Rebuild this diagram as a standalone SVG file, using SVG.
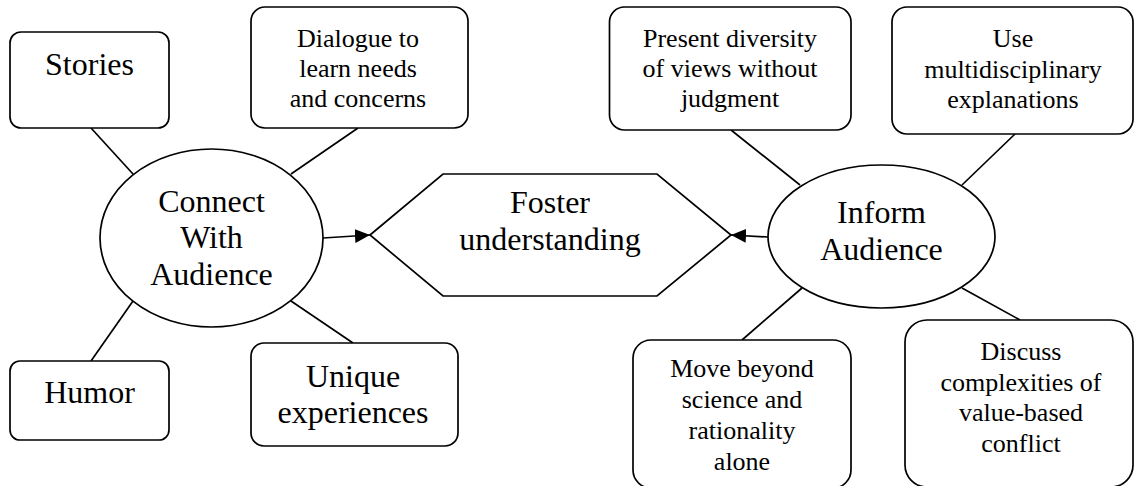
<svg xmlns="http://www.w3.org/2000/svg" width="1135" height="486" viewBox="0 0 1135 486">
<defs>
<style>
.box{fill:#fff;stroke:#000;stroke-width:1.7}
.ln{fill:none;stroke:#000;stroke-width:1.7}
.big{font-family:"Liberation Serif","Times New Roman",serif;font-size:32px;fill:#000;text-anchor:middle}
.sm{font-family:"Liberation Serif","Times New Roman",serif;font-size:26px;fill:#000;text-anchor:middle}
</style>
<marker id="arr" viewBox="0 0 15 14" refX="15" refY="7" markerWidth="15" markerHeight="14" markerUnits="userSpaceOnUse" orient="auto">
<path d="M0,0 L15,7 L0,14 Z" fill="#000"/>
</marker>
</defs>
<rect width="1135" height="486" fill="#fff"/>
<g id="connectors">
<line class="ln" x1="91" y1="128" x2="133" y2="174"/>
<line class="ln" x1="358" y1="128" x2="291" y2="174"/>
<line class="ln" x1="91" y1="361" x2="133" y2="301"/>
<line class="ln" x1="353" y1="343" x2="291" y2="301"/>
<line class="ln" x1="731" y1="130" x2="800" y2="185"/>
<line class="ln" x1="1015" y1="134" x2="962" y2="185"/>
<line class="ln" x1="742" y1="340" x2="802" y2="288"/>
<line class="ln" x1="1020" y1="320" x2="962" y2="288"/>
<line class="ln" x1="323" y1="238" x2="370" y2="235" marker-end="url(#arr)"/>
<line class="ln" x1="768" y1="237" x2="731" y2="235" marker-end="url(#arr)"/>
</g>
<g id="stories">
<rect class="box" x="10" y="32" width="159" height="96" rx="11"/>
<text class="big" x="89.5" y="75">Stories</text>
</g>
<g id="dialogue">
<rect class="box" x="251" y="7" width="217" height="121" rx="14"/>
<text class="sm" x="358" y="47">Dialogue to</text>
<text class="sm" x="358" y="77">learn needs</text>
<text class="sm" x="358" y="107">and concerns</text>
</g>
<g id="humor">
<rect class="box" x="10" y="361" width="159" height="79" rx="10"/>
<text class="big" x="89.5" y="403">Humor</text>
</g>
<g id="unique">
<rect class="box" x="251" y="343" width="207" height="103" rx="13"/>
<text class="big" x="353" y="387">Unique</text>
<text class="big" x="353" y="423">experiences</text>
</g>
<g id="connect">
<ellipse class="box" cx="211.5" cy="238" rx="111.5" ry="89"/>
<text class="big" x="211.5" y="212">Connect</text>
<text class="big" x="211.5" y="248">With</text>
<text class="big" x="211.5" y="285">Audience</text>
</g>
<g id="foster">
<polygon class="box" points="370,235 443,174 657,174 731,235 657,296 443,296"/>
<text class="big" x="550" y="213">Foster</text>
<text class="big" x="550" y="250">understanding</text>
</g>
<g id="inform">
<ellipse class="box" cx="881.5" cy="236.5" rx="113.5" ry="71.5"/>
<text class="big" x="881.5" y="223">Inform</text>
<text class="big" x="881.5" y="260">Audience</text>
</g>
<g id="present">
<rect class="box" x="609.5" y="7" width="241.5" height="123" rx="15"/>
<text class="sm" x="730" y="47">Present diversity</text>
<text class="sm" x="730" y="77">of views without</text>
<text class="sm" x="730" y="107">judgment</text>
</g>
<g id="use">
<rect class="box" x="892" y="7" width="241" height="127" rx="15"/>
<text class="sm" x="1013" y="47">Use</text>
<text class="sm" x="1013" y="77.5">multidisciplinary</text>
<text class="sm" x="1013" y="108">explanations</text>
</g>
<g id="move">
<rect class="box" x="633" y="340" width="218" height="148" rx="18"/>
<text class="sm" x="742" y="377">Move beyond</text>
<text class="sm" x="742" y="408">science and</text>
<text class="sm" x="742" y="439">rationality</text>
<text class="sm" x="742" y="470">alone</text>
</g>
<g id="discuss">
<rect class="box" x="905" y="320" width="228" height="167" rx="22"/>
<text class="sm" x="1021" y="360">Discuss</text>
<text class="sm" x="1021" y="390.5">complexities of</text>
<text class="sm" x="1021" y="421">value-based</text>
<text class="sm" x="1021" y="451.5">conflict</text>
</g>
</svg>
